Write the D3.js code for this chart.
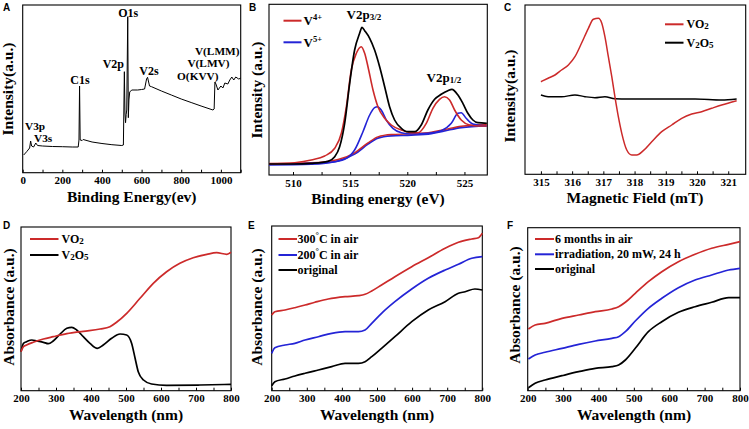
<!DOCTYPE html>
<html><head><meta charset="utf-8">
<script src="https://cdn.jsdelivr.net/npm/d3@7"></script>
<style>
body{margin:0;background:#fff;}
text{font-family:"Liberation Serif","Times New Roman",serif;font-weight:bold;fill:#000;}
.plab{font-family:"Liberation Sans",Arial,sans-serif;font-size:10px;}
</style></head>
<body><svg id="c" width="749" height="429"></svg>
<script>
// ---------- DATA ----------
// A: XPS survey
const surveyBE = [5,20,35,40,45,55,66,75,100,150,200,250,280,284,287,290,300,305,350,400,450,500,508,513,516,519,522,525,530,533,536,540,550,580,600,615,625,630,640,650,700,750,800,850,900,960,966,970,975,985,1000,1010,1020,1035,1045,1055,1065,1075,1090,1100];
const surveyI  = [17.7,21,24.7,31.7,26.7,25.7,29.7,27.2,26.7,26.2,26,25.7,25.7,32.7,86.7,32.7,32.2,33.2,30.7,29.2,28,27.2,27.7,101,59.7,50,58,62.7,156,55,72.7,80.7,82.7,82.7,83.2,83.7,93.7,95.4,86.7,86,81.7,77.7,73.7,70.2,66.7,62.7,63.7,90.7,88.7,82.7,86.7,84.7,89.7,88.7,92.7,95.7,92.7,95.7,93.7,94.5];
const surveyTicks = [0,200,400,600,800,1000];
const surveyPeaks = ["O1s","V2p","C1s","V2s","V(LMM)","V(LMV)","O(KVV)","V3p","V3s"];

// B: V2p high-resolution
const bExpE = [507.9,510.15,511.6,513.06,513.65,514.08,514.52,514.96,515.39,515.83,516.04,516.27,516.71,517.14,517.58,518.02,518.45,518.89,519.48,520.06,520.64,521.22,521.8,522.39,522.97,523.55,523.9,524.43,524.86,525.3,525.74,526.17,526.96];
const bExpI = [11,11,11.7,13.7,18.3,28.3,51.7,91.7,125,141.7,147.7,144.3,136.7,125,108.3,88.3,68.3,55,46.7,43.3,43.3,50,65,75.7,80.7,84.3,85.7,80,71.7,61.7,55,52.3,51.7];
const bV4E = [507.9,510.15,511.6,512.77,513.65,514.23,514.67,515.1,515.54,515.97,516.27,516.56,517.0,517.43,518.02,518.6,519.48,520.35,520.93,521.66,522.24,522.82,523.26,523.7,524.14,524.72,525.45,526.17,526.96];
const bV4I = [11,12.3,15,19,26.7,41.7,68.3,105,121.7,128.3,121.7,108.3,85,68.3,56.7,50,45,42.3,42.3,51.7,66.7,75.7,78.3,75,65,55,50,49,49];
const bV5E = [507.9,511.6,513.35,514.52,515.39,516.12,516.71,517.14,517.4,517.72,518.16,518.74,519.48,520.35,521.8,522.97,523.85,524.43,524.72,525.15,525.74,526.96];
const bV5I = [11,11.7,12.7,15.7,25,43.3,60,67.3,68.3,65,55,46.7,42.3,41,41.7,44.3,51.7,61.7,62.3,56.7,51,49];
const bBaseE = [507.9,511.6,513.94,515.39,516.56,517.43,518.6,520.35,522.1,523.26,524.72,526.96];
const bBaseI = [11,11.7,15,21.7,31.7,37.7,40,40.7,42.3,45,48.3,50];
const bTicks = [510,515,520,525];

// C: EPR
const cVO2B = [315.0,315.23,315.45,315.66,315.88,316.09,316.3,316.52,316.68,316.84,316.95,317.05,317.16,317.27,317.37,317.48,317.59,317.75,317.91,318.07,318.28,318.55,318.87,319.19,319.51,319.83,320.15,320.47,320.79,321.27];
const cVO2I = [92.6,96,99.3,104.3,109.3,117.6,131,146,155,156,151,137.6,117.6,97.6,77.6,57.6,41,24.3,19.3,19.3,23.6,32.6,42.6,49.3,56,60.3,62.6,66,69.3,73.6];
const cV2O5B = [315.0,315.23,315.66,316.09,316.41,316.73,317.05,317.37,317.8,318.87,319.94,320.79,321.27];
const cV2O5I = [79.3,77.6,77.6,79.3,77.6,76.6,77.6,75.6,75.3,75.3,75.3,74.3,75.3];
const cTicks = [315,316,317,318,319,320,321];

// D: UV-vis VO2 vs V2O5
const dVO2W = [200,207,216,235,264,292,331,378,426,454,473,502,540,578,616,654,692,731,759,788,800];
const dVO2A = [39,44,45.7,48.4,51.7,54,57,59.4,61.7,64,68.4,77.4,92.4,107.4,119,127.4,133,136.4,138,136.4,138.4];
const dV2O5W = [200,207,216,231,245,264,278,292,311,331,345,359,378,397,418,435,459,483,502,516,526,535,550,573,616,711,800];
const dV2O5A = [39,47.4,49,50.7,49.7,48.4,47,49.7,56.4,62.4,63.4,60.7,54,47.4,42.4,45.7,52.4,56.7,55.7,47.4,32.4,19,10.7,6.7,5.4,5.7,6.4];
const wTicks = [200,300,400,500,600,700,800];

// E: heat treatment
const e300W = [200,209,238,266,295,323,361,409,447,466,485,513,551,599,646,694,732,770,789,800];
const e300A = [75.7,79,80.7,83,85.7,88.4,91.7,94,95,96.4,99.7,105.7,114,124,133,142.4,148.4,151.7,153,157.4];
const e200W = [200,209,238,266,295,333,371,409,447,466,485,513,551,599,646,694,732,770,800];
const e200A = [37.4,43,45.7,47.4,50.7,54,57.4,59,59,60.7,67.4,77.4,89,101.7,112.4,120.7,126.4,132.4,134];
const eOrigW = [200,209,238,266,295,333,371,409,447,466,485,513,551,599,646,694,732,751,779,800];
const eOrigA = [5,9,11.7,14.7,17.4,20.7,24,27.4,27.4,29,34,42.4,54,69,80.7,89,97.4,99,101.7,100.7];

// F: stability
const fW = [202,221,249,297,344,391,438,457,476,504,541,579,626,673,720,768,800];
const fMonthsA = [61.7,65.7,67.4,72.4,75.7,79,81.7,84,88.4,97.4,109,119,129,136.4,142.4,146.4,149];
const fIrrA = [31.7,35.7,38.4,42.4,46.4,49.7,52.4,54,59,69.7,82.4,92.4,103,110.7,115.7,120.7,122.4];
const fOrigA = [3,7.4,10.7,15,19,22.4,24,25.7,30.7,42.4,59,69,78.4,84,88.4,93,93];

// ---------- DRAW ----------
const RED = "#cc2a2a", BLUE = "#2424d6", BLK = "#000";
const svg = d3.select("#c");

function panel(o){
  const g = svg.append("g");
  const x = d3.scaleLinear().domain(o.xd).range([o.x0,o.x1]);
  const y = d3.scaleLinear().domain([0,o.y1-o.y0]).range([o.y1,o.y0]);
  const ax = d3.axisBottom(x).tickValues(o.minor).tickSize(-3).tickSizeOuter(0).tickPadding(4)
     .tickFormat(d => o.major.includes(d) ? d : "");
  const ag = g.append("g").attr("transform",`translate(0,${o.y1})`).call(ax);
  ag.select(".domain").remove();
  ag.selectAll("line").attr("stroke","#000");
  ag.selectAll(".tick text").filter(function(){ return this.textContent === ""; }).remove();
  ag.selectAll("text").style("font-size","11px").attr("fill","#000");
  g.append("rect").attr("x",o.x0).attr("y",o.y0).attr("width",o.x1-o.x0).attr("height",o.y1-o.y0)
    .attr("fill","none").attr("stroke","#000").attr("stroke-width",1.1);
  g.append("text").attr("x",o.xtx).attr("y",o.xty).attr("text-anchor","middle").style("font-size","15.5px").text(o.xt);
  g.append("text").attr("transform",`translate(${o.ytx},${o.yty}) rotate(-90)`).attr("dy","0.35em")
    .attr("text-anchor","middle").style("font-size","15.5px").text(o.yt);
  g.append("text").attr("class","plab").attr("x",o.lx).attr("y",o.ly).text(o.letter);
  return {g,x,y};
}
function series(p, xs, ys, color, w, curve){
  const line = d3.line().x((d,i)=>p.x(xs[i])).y((d,i)=>p.y(ys[i])).curve(curve||d3.curveMonotoneX);
  return p.g.append("path").attr("d",line(xs)).attr("fill","none").attr("stroke",color)
    .attr("stroke-width",w).attr("stroke-linejoin","round");
}
function legendLine(p, x1, x2, yy, color){
  p.g.append("line").attr("x1",x1).attr("x2",x2).attr("y1",yy).attr("y2",yy).attr("stroke",color).attr("stroke-width",2);
}
function legendText(p, xx, yy, parts, size){
  const t = p.g.append("text").attr("x",xx).attr("y",yy).style("font-size",(size||12)+"px");
  parts.forEach(pt => {
    const s = t.append("tspan").text(pt.t);
    if(pt.sup){ s.style("font-size","8.5px").attr("dy","-5"); }
    else if(pt.sub){ s.style("font-size","9px").attr("dy","1"); }
    if(pt.reset) s.attr("dy", pt.reset);
  });
  return t;
}

// Panel A
const pA = panel({x0:22.7,x1:240.7,y0:5,y1:172.7,xd:[0,1100],minor:d3.range(0,1101,100),major:surveyTicks,
  xt:"Binding Energy(ev)",xtx:131.7,xty:201.5,yt:"Intensity(a.u.)",ytx:8,yty:89,letter:"A",lx:3,ly:11});
series(pA, surveyBE, surveyI, BLK, 1, d3.curveLinear);
const aLab = [[128.3,17,"middle",12],[124,68,"end",12],[80,84,"middle",12],[149,75,"middle",12],
              [239.5,54.5,"end",11.3],[229.5,67,"end",11.3],[218.5,79.5,"end",11.3],[25,129.5,"start",11.3],[34,142,"start",11.3]];
surveyPeaks.forEach((s,i)=>{
  pA.g.append("text").attr("x",aLab[i][0]).attr("y",aLab[i][1]).attr("text-anchor",aLab[i][2]).style("font-size",aLab[i][3]+"px").text(s);
});

// Panel B
const pB = panel({x0:269,x1:487.3,y0:4.3,y1:175,xd:[507.9,527],minor:[510,512.5,515,517.5,520,522.5,525],major:bTicks,
  xt:"Binding energy (eV)",xtx:378,xty:203.8,yt:"Intensity (a.u.)",ytx:256.5,yty:90,letter:"B",lx:249,ly:11});
series(pB, bBaseE, bBaseI, BLUE, 1.8).attr("transform","translate(0,0.8)");
series(pB, bBaseE, bBaseI, RED, 1.4).attr("transform","translate(0,-0.5)");
series(pB, bV5E, bV5I, BLUE, 1.6);
series(pB, bV4E, bV4I, RED, 1.6);
series(pB, bExpE, bExpI, BLK, 1.7);
legendLine(pB, 283.5, 301.5, 20.7, RED);
legendText(pB, 303.5, 25, [{t:"V"},{t:"4+",sup:true}], 13);
legendLine(pB, 283.5, 301.5, 42.3, BLUE);
legendText(pB, 303.5, 46.5, [{t:"V"},{t:"5+",sup:true}], 13);
legendText(pB, 346.5, 18.5, [{t:"V2p"},{t:"3/2",sub:true}], 13);
legendText(pB, 426.5, 82, [{t:"V2p"},{t:"1/2",sub:true}], 13);

// Panel C
const pC = panel({x0:525,x1:745.7,y0:5,y1:174.3,xd:[314.49,321.56],minor:d3.range(315,321.01,0.5),major:cTicks,
  xt:"Magnetic Field (mT)",xtx:635,xty:202.8,yt:"Intensity(a.u.)",ytx:510,yty:96,letter:"C",lx:504,ly:11});
series(pC, cV2O5B, cV2O5I, BLK, 1.4);
series(pC, cVO2B, cVO2I, RED, 1.5);
legendLine(pC, 665, 683.5, 24.3, RED);
legendText(pC, 686.5, 28, [{t:"VO"},{t:"2",sub:true}], 12);
legendLine(pC, 665, 683.5, 42.7, BLK);
legendText(pC, 686.5, 46.5, [{t:"V"},{t:"2",sub:true},{t:"O",reset:"-1"},{t:"5",sub:true}], 12);

// Panel D
const pD = panel({x0:21,x1:231,y0:227,y1:390.7,xd:[200,800],minor:d3.range(200,801,50),major:wTicks,
  xt:"Wavelength (nm)",xtx:126,xty:420.2,yt:"Absorbance (a.u.)",ytx:8.3,yty:307,letter:"D",lx:3,ly:229});
series(pD, dV2O5W, dV2O5A, BLK, 1.7);
series(pD, dVO2W, dVO2A, RED, 1.7);
legendLine(pD, 30, 58.5, 239, RED);
legendText(pD, 61.5, 243, [{t:"VO"},{t:"2",sub:true}], 12);
legendLine(pD, 30, 58.5, 255, BLK);
legendText(pD, 61.5, 259, [{t:"V"},{t:"2",sub:true},{t:"O",reset:"-1"},{t:"5",sub:true}], 12);

// Panel E
const pE = panel({x0:271.7,x1:482.3,y0:226,y1:390.7,xd:[200,800],minor:d3.range(200,801,50),major:wTicks,
  xt:"Wavelength (nm)",xtx:377,xty:420.2,yt:"Absorbance (a.u.)",ytx:256.5,yty:307,letter:"E",lx:248,ly:229});
series(pE, eOrigW, eOrigA, BLK, 1.7);
series(pE, e200W, e200A, BLUE, 1.7);
series(pE, e300W, e300A, RED, 1.7);
legendLine(pE, 278.5, 297, 239, RED);
legendText(pE, 297.5, 243, [{t:"300"},{t:"°",sup:true},{t:"C in air",reset:"5"}], 12);
legendLine(pE, 278.5, 297, 255, BLUE);
legendText(pE, 297.5, 259, [{t:"200"},{t:"°",sup:true},{t:"C in air",reset:"5"}], 12);
legendLine(pE, 278.5, 297, 270, BLK);
legendText(pE, 297.5, 274, [{t:"original"}], 12);

// Panel F
const pF = panel({x0:527.7,x1:740,y0:227.7,y1:390.7,xd:[200,800],minor:d3.range(200,801,50),major:wTicks,
  xt:"Wavelength (nm)",xtx:634,xty:420.2,yt:"Absorbance (a.u.)",ytx:515,yty:305,letter:"F",lx:507,ly:229});
series(pF, fW, fOrigA, BLK, 1.7);
series(pF, fW, fIrrA, BLUE, 1.7);
series(pF, fW, fMonthsA, RED, 1.7);
legendLine(pF, 535, 554, 239, RED);
legendText(pF, 555, 243, [{t:"6 months in air"}], 12);
legendLine(pF, 535, 554, 254.3, BLUE);
legendText(pF, 555, 258.3, [{t:"irradiation, 20 mW, 24 h"}], 12);
legendLine(pF, 535, 554, 269, BLK);
legendText(pF, 555, 273, [{t:"original"}], 12);
</script></body></html>
